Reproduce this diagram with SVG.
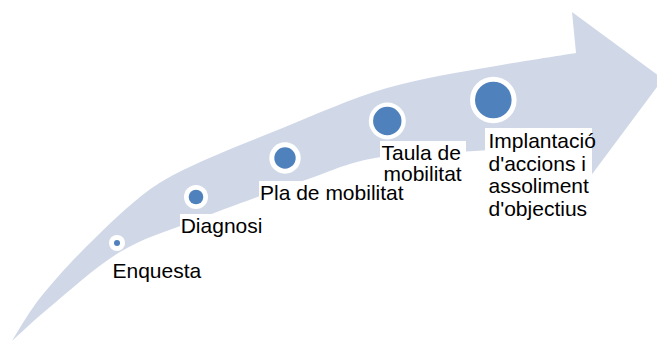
<svg xmlns="http://www.w3.org/2000/svg" width="657" height="342" viewBox="0 0 657 342">
<style>
.band{fill:#D0D8E8;stroke:none}
.ring{fill:#FFFFFF}
.dot{fill:#4F81BD}
.box{fill:#FFFFFF}
.lbl{font-family:"Liberation Sans",Arial,sans-serif;font-size:21px;fill:#000000}
</style>
<rect width="657" height="342" fill="#FFFFFF"/>
<g id="connectors">
<path class="band" d="M12,341 C16.7,333.5 28.2,313 40,298 C52,283 67,266 83,250 C100,233 121,212 140,197 C159,182 172,175 196,164 C220,152.5 253,140 285,127 C317,114 352,98 387,88 C422,78 461.5,72 493,66.5 C524.5,60.8 562.2,55.3 576,53 L572,12 L663,79 L590,177 L590,143 C570.8,144.3 510.8,148.5 475,151 C439.2,153.5 404.2,152.8 375,158 C345.8,163.2 329.8,171.7 300,182 C270.2,192.3 226,208.3 196,220 C166,231.7 144.3,237.5 120,252 C95.7,266.5 68,292.2 50,307 C32,321.8 18.3,335.3 12,341 Z"/>
</g>
<g id="node-enquesta">
<circle class="ring" cx="117" cy="243" r="8"/>
<circle class="dot" cx="117" cy="243" r="3"/>
<rect class="box" x="112" y="259" width="92" height="24"/>
<text class="lbl" x="112.5" y="277.5">Enquesta</text>
</g>
<g id="node-diagnosi">
<circle class="ring" cx="196" cy="197" r="12"/>
<circle class="dot" cx="196" cy="197" r="7.3"/>
<rect class="box" x="180" y="214" width="86" height="25"/>
<text class="lbl" x="180.7" y="233.3">Diagnosi</text>
</g>
<g id="node-pla">
<circle class="ring" cx="285" cy="158" r="15.7"/>
<circle class="dot" cx="285" cy="158" r="10.7"/>
<rect class="box" x="259" y="181" width="150" height="24"/>
<text class="lbl" x="260" y="200">Pla de mobilitat</text>
</g>
<g id="node-taula">
<circle class="ring" cx="387.3" cy="121" r="18.5"/>
<circle class="dot" cx="387.3" cy="121" r="14.2"/>
<rect class="box" x="380" y="141" width="86" height="45"/>
<text class="lbl" x="381.5" y="159.5">Taula de</text>
<text class="lbl" x="383.5" y="181">mobilitat</text>
</g>
<g id="node-implantacio">
<circle class="ring" cx="493.3" cy="100" r="23.3"/>
<circle class="dot" cx="493.3" cy="100" r="18.3"/>
<rect class="box" x="485" y="128" width="107" height="94"/>
<text class="lbl" x="488.5" y="148">Implantació</text>
<text class="lbl" x="488.5" y="170.5">d'accions i</text>
<text class="lbl" x="488.5" y="193">assoliment</text>
<text class="lbl" x="488.5" y="215.5">d'objectius</text>
</g>
</svg>
